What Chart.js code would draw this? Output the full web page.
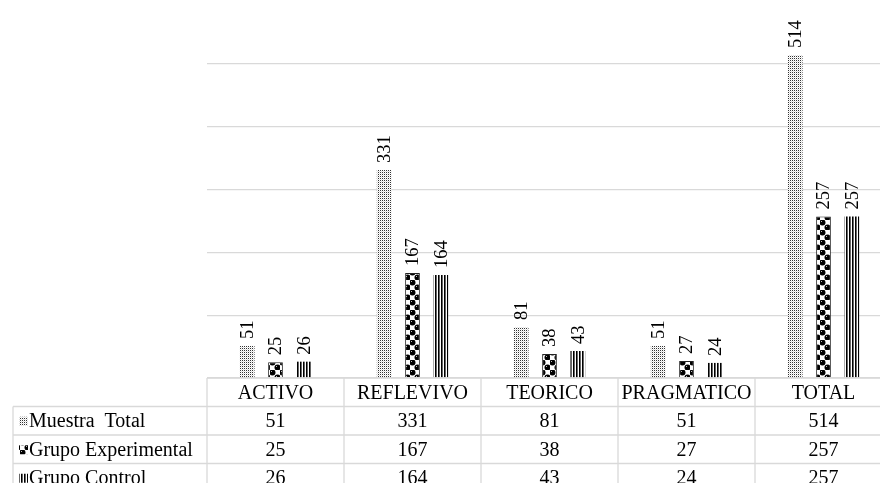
<!DOCTYPE html>
<html>
<head>
<meta charset="utf-8">
<script src="https://cdn.jsdelivr.net/npm/chart.js@4/dist/chart.umd.min.js"></script>
<style>
  html, body { margin: 0; padding: 0; overflow: hidden; background: #fff; }
  #wrap { width: 892px; height: 483px; }
</style>
</head>
<body>
<div id="wrap"><canvas id="graphCanvas"></canvas></div>
<script>
const categories = ["ACTIVO", "REFLEVIVO", "TEORICO", "PRAGMATICO", "TOTAL"];
const seriesNames = ["Muestra  Total", "Grupo Experimental", "Grupo Control"];
const muestraTotal = [51, 331, 81, 51, 514];
const grupoExperimental = [25, 167, 38, 27, 257];
const grupoControl = [26, 164, 43, 24, 257];

const FONT = "'Liberation Serif', 'Times New Roman', serif";
const LINE = "#d9d9d9";

function makePattern(kind){
    const c = document.createElement("canvas");
    const g = c.getContext("2d");
    if(kind === "dots"){
        c.width = 2; c.height = 2;
        g.fillStyle = "#fff"; g.fillRect(0, 0, 2, 2);
        g.fillStyle = "#333";
        g.fillRect(0, 0, 1, 1);
        g.fillStyle = "#ddd";
        g.fillRect(1, 1, 1, 1);
    } else if(kind === "checker"){
        c.width = 10; c.height = 10;
        g.fillStyle = "#fff"; g.fillRect(0, 0, 10, 10);
        g.fillStyle = "#000";
        g.beginPath(); g.arc(2.5, 2.5, 3, 0, Math.PI*2); g.fill();
        g.beginPath(); g.arc(7.5, 7.5, 3, 0, Math.PI*2); g.fill();
        g.fillStyle = "#bbb";
        g.fillRect(1, 1, 1, 1);
        g.fillRect(6, 6, 1, 1);
    } else {
        c.width = 3; c.height = 2;
        g.fillStyle = "#fff"; g.fillRect(0, 0, 3, 2);
        g.fillStyle = "#000"; g.fillRect(0, 0, 1, 2);
        g.fillStyle = "#666"; g.fillRect(1, 0, 1, 2);
    }
    return document.getElementById("graphCanvas").getContext("2d").createPattern(c, "repeat");
}

const patterns = [makePattern("dots"), makePattern("checker"), makePattern("stripes")];
const seriesValues = [muestraTotal, grupoExperimental, grupoControl];
const borders = [0, 1, 0];

const labelPlugin = {
    id: "barLabels",
    afterDatasetsDraw(chart){
        const ctx = chart.ctx;
        ctx.save();
        ctx.fillStyle = "#000";
        ctx.font = "18.5px " + FONT;
        ctx.textAlign = "left";
        ctx.textBaseline = "middle";
        chart.data.datasets.forEach((ds, di) => {
            chart.getDatasetMeta(di).data.forEach((bar, i) => {
                ctx.save();
                ctx.translate(bar.x, bar.y - 7);
                ctx.rotate(-Math.PI / 2);
                ctx.fillText(String(ds.data[i]), 0, 1);
                ctx.restore();
            });
        });
        ctx.restore();
    }
};

const tablePlugin = {
    id: "dataTable",
    afterDraw(chart){
        const ctx = chart.ctx;
        const xs = chart.scales.x;
        const area = chart.chartArea;
        const colW = xs.width / categories.length;
        const top = area.bottom;
        const rowH = 28.5;
        const leftX = 13;
        const right = chart.width;
        ctx.save();
        ctx.strokeStyle = LINE;
        ctx.lineWidth = 1.3;
        ctx.beginPath();
        ctx.moveTo(area.left, top); ctx.lineTo(right, top);
        for(let r = 1; r <= 4; r++){
            const y = top + r * rowH;
            ctx.moveTo(leftX, y); ctx.lineTo(right, y);
        }
        for(let i = 0; i <= categories.length; i++){
            const x = xs.left + i * colW;
            ctx.moveTo(x, top); ctx.lineTo(x, top + 5 * rowH);
        }
        ctx.moveTo(leftX, top + rowH); ctx.lineTo(leftX, top + 5 * rowH);
        ctx.stroke();

        ctx.fillStyle = "#000";
        ctx.font = "20px " + FONT;
        ctx.textAlign = "center";
        ctx.textBaseline = "middle";
        categories.forEach((c, i) => {
            ctx.fillText(c, xs.getPixelForValue(i), top + rowH / 2 + 1);
        });
        seriesValues.forEach((vals, r) => {
            const y = top + (r + 1) * rowH + rowH / 2 + 1;
            vals.forEach((v, i) => {
                ctx.fillText(String(v), xs.getPixelForValue(i), y);
            });
        });
        ctx.textAlign = "left";
        seriesNames.forEach((name, r) => {
            const y = top + (r + 1) * rowH + rowH / 2 + 1;
            ctx.fillStyle = patterns[r];
            ctx.fillRect(19, y - 5, 9, 9);
            ctx.fillStyle = "#000";
            ctx.fillText(name, 29, y);
        });
        ctx.restore();
    }
};

const chart = new Chart(document.getElementById("graphCanvas"), {
    type: "bar",
    data: {
        labels: categories,
        datasets: seriesNames.map((name, i) => ({
            label: name,
            data: seriesValues[i],
            backgroundColor: patterns[i],
            borderColor: "#222",
            borderWidth: borders[i],
            categoryPercentage: 0.62,
            barPercentage: 0.52
        }))
    },
    options: {
        responsive: true,
        maintainAspectRatio: false,
        animation: false,
        layout: { padding: { left: 207, right: 0, top: 1, bottom: 105 } },
        plugins: { legend: { display: false }, tooltip: { enabled: false } },
        scales: {
            x: { display: false },
            y: {
                min: 0, max: 600,
                ticks: { display: false, stepSize: 100 },
                border: { display: false },
                grid: {
                    drawTicks: false,
                    lineWidth: 1.3,
                    color: c => (c.tick && c.tick.value === 600) ? "rgba(0,0,0,0)" : LINE
                }
            }
        }
    },
    plugins: [labelPlugin, tablePlugin]
});
</script>
</body>
</html>
